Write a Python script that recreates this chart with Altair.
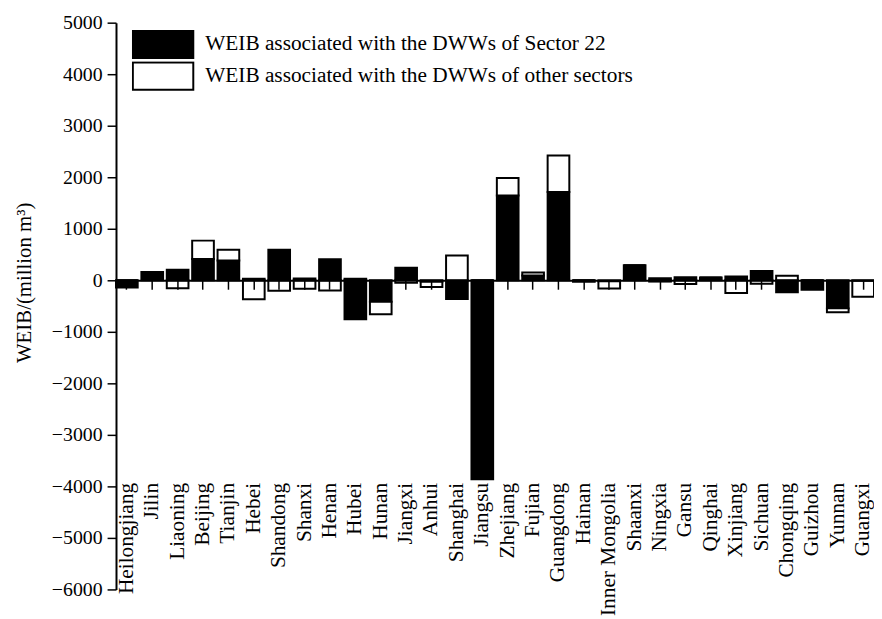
import altair as alt
import pandas as pd

provinces = ["Heilongjiang", "Jilin", "Liaoning", "Beijing", "Tianjin", "Hebei", "Shandong",
             "Shanxi", "Henan", "Hubei", "Hunan", "Jiangxi", "Anhui", "Shanghai", "Jiangsu",
             "Zhejiang", "Fujian", "Guangdong", "Hainan", "Inner Mongolia", "Shaanxi", "Ningxia",
             "Gansu", "Qinghai", "Xinjiang", "Sichuan", "Chongqing", "Guizhou", "Yunnan", "Guangxi"]

sector22 = [-140, 160, 205, 415, 385, 30, 595, 35, 410, -755, -415, 245, -30, -365, -3860,
            1645, 95, 1715, -30, -20, 290, 40, 60, 55, 75, 180, -230, -185, -545, -10]

others = [0, 0, -155, 355, 210, -370, -205, -165, -200, 30, -245, -50, -100, 480, 0,
          340, 55, 705, 0, -140, 0, -25, -70, 0, -245, -65, 90, 0, -75, -310]

series_names = ["WEIB associated with the DWWs of Sector 22",
                "WEIB associated with the DWWs of other sectors"]
series_colors = ["black", "white"]
y_ticks = [-6000, -5000, -4000, -3000, -2000, -1000, 0, 1000, 2000, 3000, 4000, 5000]
y_domain = [-6000, 5000]

rows = []
for p, b, w in zip(provinces, sector22, others):
    rows.append({"province": p, "series": series_names[0], "value": b, "ord": 0})
    rows.append({"province": p, "series": series_names[1], "value": w, "ord": 1})
df = pd.DataFrame(rows)

FONT = "Liberation Serif"
W, H = 765, 572
zero_px = H * y_domain[1] / (y_domain[1] - y_domain[0])

chart = alt.Chart(df).mark_bar(stroke="black", strokeWidth=2).encode(
    x=alt.X("province:N", sort=provinces,
            scale=alt.Scale(paddingInner=0.146, paddingOuter=0),
            axis=alt.Axis(title=None, offset=-(H - zero_px), labelAngle=270,
                          labelAlign="right", labelBaseline="middle", labelPadding=195,
                          labelFontSize=21.5, labelFont=FONT, labelColor="black",
                          labelOverlap=False, labelLimit=300, labelBound=False,
                          tickSize=9, tickWidth=1.5, tickColor="black",
                          domainColor="black", domainWidth=2, zindex=1)),
    y=alt.Y("value:Q", stack="zero",
            scale=alt.Scale(domain=y_domain, nice=False, zero=False),
            axis=alt.Axis(values=y_ticks, format="d", title="WEIB/(million m³)",
                          titleFont=FONT, titleFontSize=21, titleFontWeight="normal",
                          titleColor="black", titleX=-92, titleY=262, titleAngle=270,
                          titleAlign="center", titleBaseline="middle",
                          labelFont=FONT, labelFontSize=20, labelColor="black",
                          labelPadding=5, tickSize=9, tickWidth=1.5, tickColor="black",
                          domainColor="black", domainWidth=2, grid=False)),
    fill=alt.Fill("series:N",
                  scale=alt.Scale(domain=series_names, range=series_colors),
                  legend=alt.Legend(title=None, orient="none", legendX=16, legendY=7,
                                    symbolType="M-1,-0.45H1V0.45H-1Z", symbolSize=3721,
                                    symbolStrokeColor="black", symbolStrokeWidth=2,
                                    clipHeight=30, rowPadding=2, padding=0,
                                    labelFont=FONT, labelFontSize=21.5, labelColor="black",
                                    labelOffset=11, labelLimit=600, direction="vertical")),
    order=alt.Order("ord:Q"),
).properties(
    width=W, height=H,
    padding={"left": 109, "top": 12, "right": 0, "bottom": 24},
    autosize=alt.AutoSizeParams(type="none"),
    background="white",
).configure_view(stroke=None)

chart.save("out.html", embed_options={"renderer": "svg", "actions": False})
